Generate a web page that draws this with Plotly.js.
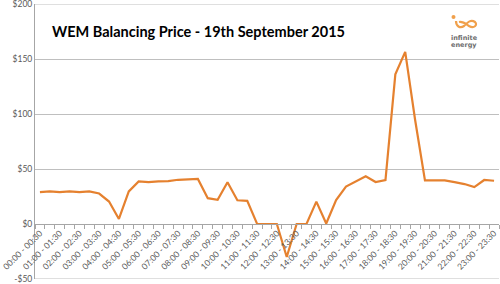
<!DOCTYPE html>
<html>
<head>
<meta charset="utf-8">
<script src="https://cdn.plot.ly/plotly-3.0.1.min.js"></script>
<style>html,body{margin:0;padding:0;background:#fff;}#chart{width:500px;height:284px;}</style>
</head>
<body>
<div id="chart"></div>
<script>
var categories = [
  "00:00 - 00:30","00:30 - 01:00","01:00 - 01:30","01:30 - 02:00","02:00 - 02:30","02:30 - 03:00",
  "03:00 - 03:30","03:30 - 04:00","04:00 - 04:30","04:30 - 05:00","05:00 - 05:30","05:30 - 06:00",
  "06:00 - 06:30","06:30 - 07:00","07:00 - 07:30","07:30 - 08:00","08:00 - 08:30","08:30 - 09:00",
  "09:00 - 09:30","09:30 - 10:00","10:00 - 10:30","10:30 - 11:00","11:00 - 11:30","11:30 - 12:00",
  "12:00 - 12:30","12:30 - 13:00","13:00 - 13:30","13:30 - 14:00","14:00 - 14:30","14:30 - 15:00",
  "15:00 - 15:30","15:30 - 16:00","16:00 - 16:30","16:30 - 17:00","17:00 - 17:30","17:30 - 18:00",
  "18:00 - 18:30","18:30 - 19:00","19:00 - 19:30","19:30 - 20:00","20:00 - 20:30","20:30 - 21:00",
  "21:00 - 21:30","21:30 - 22:00","22:00 - 22:30","22:30 - 23:00","23:00 - 23:30"
];
var prices = [
  29, 29.6, 29, 29.6, 29, 29.6, 27.7, 20.4, 4.6, 29.6,
  38.7, 38, 38.7, 39, 40.2, 40.5, 41, 23.5, 22, 38,
  21.6, 21, 0, 0, 0, -30, 0, 0, 20.3, 0.5,
  21.8, 34, 38.7, 43.3, 38.2, 40, 136, 156.5, 94.8, 39.6,
  39.6, 39.6, 38, 36.3, 33.5, 40, 39.3
];
var yTickVals = [-50, 0, 50, 100, 150, 200];
var yTickText = ["-$50", "$0", "$50", "$100", "$150", "$200"];
var titleText = "WEM Balancing Price - 19th September 2015";

var xTickText = categories.map(function (c, i) { return i % 2 === 0 ? c : ""; });

// pixel helpers for decoration (plot area: x 35..499, y 4..279)
function px(x) { return (x - 35) / 464; }
function py(y) { return (279 - y) / 275; }

var swirl = "M " + px(456) + "," + py(21) +
  " C " + px(456) + "," + py(26) + " " + px(460) + "," + py(29) + " " + px(464) + "," + py(26) +
  " C " + px(468) + "," + py(22) + " " + px(471) + "," + py(19) + " " + px(475) + "," + py(22) +
  " C " + px(478) + "," + py(25) + " " + px(474) + "," + py(29) + " " + px(469) + "," + py(26) +
  " C " + px(466) + "," + py(24) + " " + px(463) + "," + py(21) + " " + px(459) + "," + py(22);

var trace = {
  x: categories,
  y: prices,
  type: "scatter",
  mode: "lines",
  line: { color: "#E5812F", width: 2.2 },
  hoverinfo: "x+y"
};

var layout = {
  width: 500, height: 284,
  margin: { l: 35, r: 1, t: 4, b: 5, pad: 0 },
  paper_bgcolor: "#ffffff",
  plot_bgcolor: "#ffffff",
  showlegend: false,
  font: { family: "Lato, 'Open Sans', sans-serif", color: "#595959", size: 9 },
  xaxis: {
    type: "category",
    range: [-0.5, categories.length - 0.5],
    anchor: "free",
    position: 0.2,
    tickvals: categories,
    ticktext: xTickText,
    tickangle: -45,
    tickson: "boundaries",
    ticks: "outside",
    ticklen: 4,
    tickcolor: "#a6a6a6",
    showline: true,
    linecolor: "#a6a6a6",
    linewidth: 1,
    showgrid: false,
    zeroline: false,
    automargin: false,
    tickfont: { size: 8.5, color: "#595959" }
  },
  yaxis: {
    range: [-50, 200],
    tickvals: yTickVals,
    ticktext: yTickText,
    ticklabeloverflow: "allow",
    showgrid: true,
    gridcolor: "#bfbfbf",
    gridwidth: 1,
    zeroline: false,
    showline: true,
    linecolor: "#a6a6a6",
    ticks: "",
    automargin: false,
    tickfont: { size: 8.5, color: "#595959" }
  },
  shapes: [
    { type: "line", xref: "paper", yref: "y", x0: 0, x1: 1, y0: 200, y1: 200,
      line: { color: "#bfbfbf", width: 1 }, layer: "below" },
    { type: "line", xref: "paper", yref: "y", x0: 0, x1: 1, y0: -50, y1: -50,
      line: { color: "#bfbfbf", width: 1 }, layer: "below" },
    { type: "circle", xref: "paper", yref: "paper",
      x0: px(451.5), x1: px(455.5), y0: py(19), y1: py(15),
      fillcolor: "#F0A04B", line: { width: 0 } },
    { type: "path", xref: "paper", yref: "paper", path: swirl,
      line: { color: "#F0A04B", width: 2.2 } }
  ],
  annotations: [
    { text: "<b>" + titleText + "</b>", xref: "paper", yref: "paper",
      x: px(50), y: py(31.5), xanchor: "left", yanchor: "middle", showarrow: false,
      font: { family: "Lato, 'Open Sans', sans-serif", size: 14.5, color: "#000000" } },
    { text: "<b>infinite</b>", xref: "paper", yref: "paper", x: px(464), y: py(37.5),
      xanchor: "center", yanchor: "middle", showarrow: false, borderpad: 0,
      font: { family: "'DejaVu Sans', sans-serif", size: 6.5, color: "#6e6e6e" } },
    { text: "<b>energy</b>", xref: "paper", yref: "paper", x: px(464), y: py(45.5),
      xanchor: "center", yanchor: "middle", showarrow: false, borderpad: 0,
      font: { family: "'DejaVu Sans', sans-serif", size: 6.5, color: "#6e6e6e" } }
  ]
};

Plotly.newPlot("chart", [trace], layout, { displayModeBar: false, staticPlot: true });
</script>
</body>
</html>
